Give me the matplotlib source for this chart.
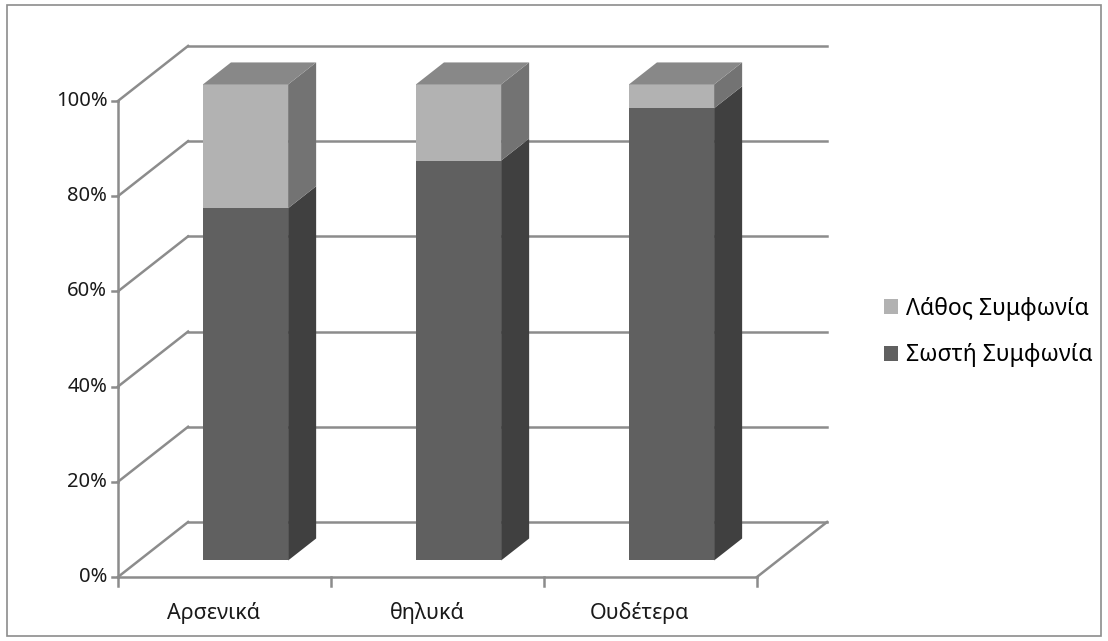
import matplotlib
matplotlib.use("Agg")
import matplotlib.pyplot as plt
from matplotlib.patches import Polygon, Rectangle, Patch

categories = ["Αρσενικά", "θηλυκά", "Ουδέτερα"]
series_names = ["Σωστή Συμφωνία", "Λάθος Συμφωνία"]
correct = [74, 84, 95]
wrong = [26, 16, 5]
y_ticks = [0, 20, 40, 60, 80, 100]

front_colors = ["#606060", "#b2b2b2"]
side_colors = ["#404040", "#737373"]
top_color = "#888888"
grid_color = "#8c8c8c"

# depth projection (data units): back wall offset
DX, DY = 0.329, 11.55
D0, D1 = 0.30, 0.70   # bar depth range
BW = 0.40             # bar width


def proj(x, y, d):
    return (x + d * DX, y + d * DY)


plt.rcParams['font.family'] = ['Noto Sans', 'DejaVu Sans']

fig = plt.figure(figsize=(11.08, 6.41), dpi=100)
ax = fig.add_axes([0, 0, 1, 1])
ax.set_xlim(-1.054, 4.148)
ax.set_ylim(-13.45, 121.2)
ax.axis("off")

# chart border
fig.patches.append(Rectangle((0.006, 0.008), 0.988, 0.984, transform=fig.transFigure,
                             fill=False, edgecolor="#8c8c8c", lw=1.2))

x0, x1 = -0.5, len(categories) - 0.5
lw = 1.8
# back wall gridlines and left wall diagonals
for v in y_ticks:
    bx0, by = proj(x0, v, 1)
    bx1, _ = proj(x1, v, 1)
    ax.plot([bx0, bx1], [by, by], color=grid_color, lw=lw, zorder=1)
    ax.plot([x0, bx0], [v, by], color=grid_color, lw=lw, zorder=1)
# floor
fx, fy = proj(x1, 0, 1)
ax.plot([x0, x1], [0, 0], color=grid_color, lw=lw, zorder=1)
ax.plot([x1, fx], [0, fy], color=grid_color, lw=lw, zorder=1)
# front vertical axis
ax.plot([x0, x0], [0, 100], color=grid_color, lw=lw, zorder=1)

# ticks and tick labels
for v in y_ticks:
    ax.plot([x0 - 0.03, x0], [v, v], color=grid_color, lw=lw, zorder=1)
    ax.text(x0 - 0.05, v, f"{v}%", ha="right", va="center", fontsize=14.5, color="#1a1a1a")
for k in range(len(categories) + 1):
    ax.plot([x0 + k, x0 + k], [0, -1.8], color=grid_color, lw=lw, zorder=1)
for i, c in enumerate(categories):
    ax.text(i - 0.05, -7.5, c, ha="center", va="center", fontsize=15.5, color="#1a1a1a")

# bars
for i in range(len(categories)):
    xl = i - BW / 2
    xr = i + BW / 2
    bottom = 0
    for s, vals in enumerate([correct, wrong]):
        top = bottom + vals[i]
        side = [proj(xr, bottom, D0), proj(xr, bottom, D1), proj(xr, top, D1), proj(xr, top, D0)]
        front = [proj(xl, bottom, D0), proj(xr, bottom, D0), proj(xr, top, D0), proj(xl, top, D0)]
        ax.add_patch(Polygon(side, closed=True, facecolor=side_colors[s], edgecolor="none", zorder=3))
        ax.add_patch(Polygon(front, closed=True, facecolor=front_colors[s], edgecolor="none", zorder=3))
        bottom = top
    cap = [proj(xl, bottom, D0), proj(xr, bottom, D0), proj(xr, bottom, D1), proj(xl, bottom, D1)]
    ax.add_patch(Polygon(cap, closed=True, facecolor=top_color, edgecolor="none", zorder=3))

handles = [Patch(facecolor=front_colors[1], label=series_names[1]),
           Patch(facecolor=front_colors[0], label=series_names[0])]
fig.legend(handles=handles, loc="center left", bbox_to_anchor=(0.79, 0.482), frameon=False,
           fontsize=16.5, handlelength=0.6, handleheight=0.6, handletextpad=0.33,
           labelspacing=1.0, borderaxespad=0)

fig.savefig("out.png", dpi=100)
